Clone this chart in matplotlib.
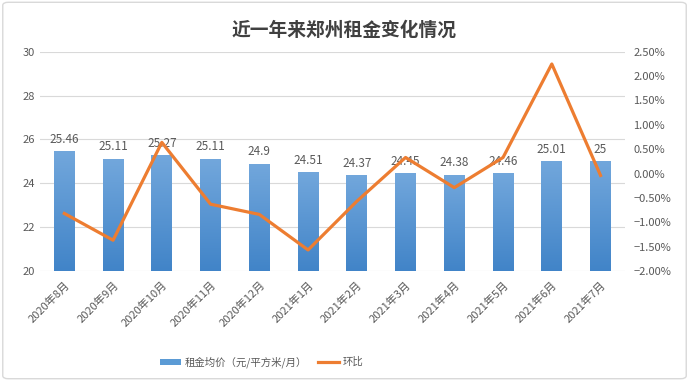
import matplotlib.pyplot as plt
import matplotlib.ticker as mticker
from matplotlib.patches import FancyBboxPatch, Patch
from matplotlib.lines import Line2D
from matplotlib.colors import LinearSegmentedColormap
import numpy as np

plt.rcParams['font.family'] = ['Noto Sans CJK SC', 'DejaVu Sans']
plt.rcParams['axes.unicode_minus'] = True

months = ["2020年8月", "2020年9月", "2020年10月", "2020年11月", "2020年12月", "2021年1月",
          "2021年2月", "2021年3月", "2021年4月", "2021年5月", "2021年6月", "2021年7月"]
rent = [25.46, 25.11, 25.27, 25.11, 24.9, 24.51, 24.37, 24.45, 24.38, 24.46, 25.01, 25]
mom = [-0.82, -1.37, 0.64, -0.63, -0.84, -1.57, -0.57, 0.33, -0.29, 0.33, 2.25, -0.04]
rent_labels = ["25.46", "25.11", "25.27", "25.11", "24.9", "24.51", "24.37", "24.45",
               "24.38", "24.46", "25.01", "25"]

grey = "#595959"
fig = plt.figure(figsize=(6.89, 3.81), dpi=100)
ax = fig.add_axes([0.058, 0.289, 0.849, 0.575])
ax2 = ax.twinx()

x = np.arange(len(months))
bars = ax.bar(x, rent, width=0.43, color="#5b9bd5", zorder=2)

# vertical gradient in each bar
grad = np.linspace(0, 1, 256).reshape(-1, 1)
cmap = LinearSegmentedColormap.from_list("g", ["#4184c8", "#72a7dc"])
for b in bars:
    x0, y0 = b.get_x(), b.get_y()
    w, h = b.get_width(), b.get_height()
    im = ax.imshow(grad, cmap=cmap, origin="lower", aspect="auto",
                   extent=(x0, x0 + w, 20, y0 + h), zorder=2)
    im.set_clip_path(b)

for xi, v, t in zip(x, rent, rent_labels):
    ax.annotate(t, (xi, v), xytext=(0, 4), textcoords="offset points",
                ha="center", va="bottom", fontsize=8.5, color=grey, zorder=5)

ax.set_xlim(-0.5, len(months) - 0.5)
ax.set_ylim(20, 30)
ax.set_yticks(range(20, 31, 2))
ax.yaxis.grid(True, color="#d9d9d9", linewidth=0.8, zorder=0)
ax.set_axisbelow(True)
ax.set_xticks(x)
ax.set_xticklabels(months, rotation=45, ha="right", rotation_mode="anchor")
ax.tick_params(axis="both", length=0, labelsize=8, labelcolor=grey)
ax.tick_params(axis="x", pad=6)
for s in ax.spines.values():
    s.set_visible(False)

ax2.plot(x, mom, color="#ed7d31", linewidth=2.3, zorder=4)
ax2.set_ylim(-2.0, 2.5)
ax2.set_yticks(np.arange(-2.0, 2.51, 0.5))
ax2.yaxis.set_major_formatter(mticker.FuncFormatter(lambda v, p: f"{v:.2f}%".replace("-", "−")))
ax2.tick_params(axis="y", length=0, labelsize=8, labelcolor=grey, pad=6)
for s in ax2.spines.values():
    s.set_visible(False)

fig.text(0.5, 0.921, "近一年来郑州租金变化情况", ha="center", va="center",
         fontsize=13.5, fontweight="bold", color="#404040")

handles = [Patch(facecolor="#5b9bd5"), Line2D([], [], color="#ed7d31", linewidth=2.3)]
fig.legend(handles, ["租金均价（元/平方米/月）", "环比"], loc="center",
           bbox_to_anchor=(0.38, 0.05), ncol=2, frameon=False, fontsize=7.5,
           labelcolor=grey, handlelength=2.0, handleheight=0.5, handletextpad=0.4,
           columnspacing=1.0)

border = FancyBboxPatch((0.004, 0.006), 0.992, 0.988, boxstyle="round,pad=0,rounding_size=0.008",
                        transform=fig.transFigure, fill=False, edgecolor="#d9d9d9", linewidth=1)
fig.patches.append(border)

fig.savefig("out.png", dpi=100)
